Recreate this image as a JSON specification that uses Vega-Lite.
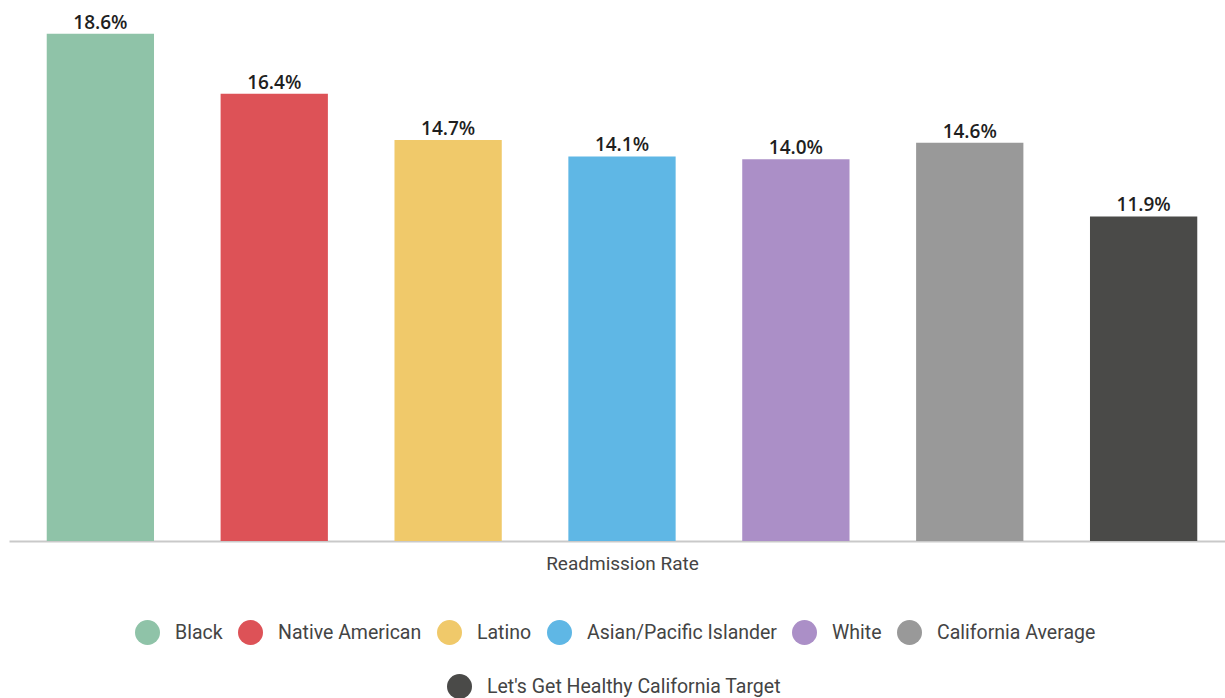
{
  "$schema": "https://vega.github.io/schema/vega-lite/v6.json",
  "width": 1226,
  "height": 540,
  "padding": {"left": 9, "top": 1, "right": 0, "bottom": 0},
  "autosize": {"type": "pad"},
  "background": "white",
  "data": {
    "values": [
      {"category": "Black", "rate": 0.186},
      {"category": "Native American", "rate": 0.164},
      {"category": "Latino", "rate": 0.147},
      {"category": "Asian/Pacific Islander", "rate": 0.141},
      {"category": "White", "rate": 0.140},
      {"category": "California Average", "rate": 0.146},
      {"category": "Let's Get Healthy California Target", "rate": 0.119}
    ]
  },
  "encoding": {
    "x": {
      "field": "category",
      "type": "nominal",
      "sort": null,
      "scale": {"paddingInner": 0.383, "paddingOuter": 0.217},
      "axis": {
        "title": "Readmission Rate",
        "labels": false,
        "ticks": false,
        "domainColor": "#c9c9c9",
        "domainWidth": 2,
        "titleFontSize": 19,
        "titleFont": "Roboto",
        "titleFontWeight": "normal",
        "titleColor": "#444444",
        "titlePadding": 13
      }
    },
    "y": {
      "field": "rate",
      "type": "quantitative",
      "scale": {"domain": [0, 0.198], "nice": false},
      "axis": null
    }
  },
  "layer": [
    {
      "mark": {"type": "bar"},
      "encoding": {
        "color": {
          "field": "category",
          "type": "nominal",
          "scale": {
            "domain": ["Black", "Native American", "Latino", "Asian/Pacific Islander", "White", "California Average", "Let's Get Healthy California Target"],
            "range": ["#8fc3a8", "#dd5257", "#f0c96a", "#5fb7e5", "#ab8fc7", "#999999", "#4a4a48"]
          },
          "legend": {
            "title": null,
            "orient": "none",
            "legendX": 126,
            "legendY": 619,
            "direction": "horizontal",
            "values": ["Black", "Native American", "Latino", "Asian/Pacific Islander", "White", "California Average"],
            "symbolType": "circle",
            "symbolSize": 625,
            "symbolStrokeWidth": 0,
            "labelFont": "Roboto",
            "labelFontSize": 19.5,
            "labelColor": "#444444",
            "labelOffset": 15,
            "columnPadding": 15,
            "labelLimit": 400
          }
        },
        "opacity": {
          "field": "category",
          "type": "nominal",
          "scale": {"domain": ["Let's Get Healthy California Target"], "range": [1, 1]},
          "legend": {
            "title": null,
            "orient": "none",
            "legendX": 438,
            "legendY": 673,
            "direction": "horizontal",
            "values": ["Let's Get Healthy California Target"],
            "symbolType": "circle",
            "symbolSize": 625,
            "symbolFillColor": "#4a4a48",
            "symbolStrokeWidth": 0,
            "labelFont": "Roboto",
            "labelFontSize": 19.5,
            "labelColor": "#444444",
            "labelOffset": 15,
            "labelLimit": 400
          }
        }
      }
    },
    {
      "mark": {"type": "text", "baseline": "alphabetic", "dy": -5, "font": "Open Sans", "fontSize": 19, "fontWeight": 600, "color": "#1f1f1f"},
      "encoding": {
        "text": {"field": "rate", "type": "quantitative", "format": ".1%"}
      }
    }
  ],
  "config": {
    "view": {"stroke": null}
  }
}
